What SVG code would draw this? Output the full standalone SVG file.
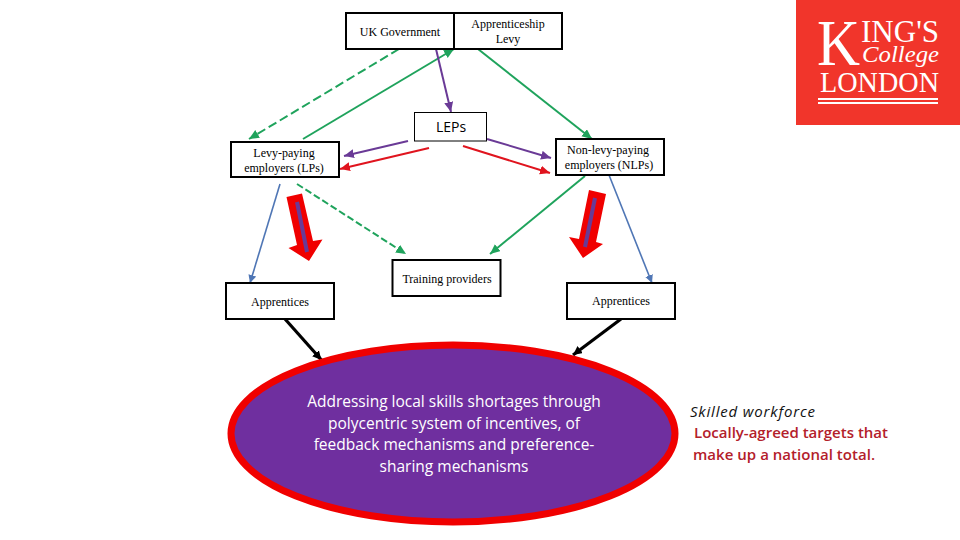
<svg xmlns="http://www.w3.org/2000/svg" width="960" height="540" viewBox="0 0 960 540">
<style>
.box{fill:#fff;stroke:#000;stroke-width:2}
.t{font-family:"Liberation Serif","Times New Roman",serif;font-size:12px;fill:#000;text-anchor:middle}
.s{font-family:"Open Sans","Noto Sans",sans-serif;font-size:15.5px;text-anchor:middle}
.n{font-family:"Open Sans","Noto Sans",sans-serif;font-size:15px}
.d{fill:#b3202a;font-weight:600}
.l{fill:none;stroke-width:2}
.g{stroke:#1fa35c}.p{stroke:#6a3a96}.r{stroke:#e0141e}.b{stroke:#4f76b5;stroke-width:1.6}
.k{stroke:#000;stroke-width:3.2;fill:none}
.w{font-family:"Liberation Serif",serif;fill:#fff}
</style>
<defs>
<marker id="ag" markerUnits="userSpaceOnUse" markerWidth="12" markerHeight="10" refX="10" refY="4.5" orient="auto"><path d="M0 0L10 4.5L0 9z" fill="#1fa35c"/></marker>
<marker id="ap" markerUnits="userSpaceOnUse" markerWidth="12" markerHeight="10" refX="10" refY="4.5" orient="auto"><path d="M0 0L10 4.5L0 9z" fill="#6a3a96"/></marker>
<marker id="ar" markerUnits="userSpaceOnUse" markerWidth="12" markerHeight="10" refX="10" refY="4.5" orient="auto"><path d="M0 0L10 4.5L0 9z" fill="#e0141e"/></marker>
<marker id="ab" markerUnits="userSpaceOnUse" markerWidth="12" markerHeight="10" refX="8" refY="4" orient="auto"><path d="M0 0L8 4L0 8z" fill="#4f76b5"/></marker>
<marker id="ak" markerUnits="userSpaceOnUse" markerWidth="12" markerHeight="10" refX="9" refY="4.5" orient="auto"><path d="M0 0L9 4.5L0 9z" fill="#000"/></marker>
</defs>
<rect width="960" height="540" fill="#fff"/>
<g id="connectors">
<path class="l g" stroke-dasharray="9 4" d="M399 49L249 139" marker-end="url(#ag)"/>
<path class="l g" d="M303 139L454 49" marker-end="url(#ag)"/>
<path class="l g" d="M478 49L592 139" marker-end="url(#ag)"/>
<path class="l p" d="M436 49L451 112" marker-end="url(#ap)"/>
<path class="l p" d="M408 141L344 156" marker-end="url(#ap)"/>
<path class="l p" d="M487 139L551 158" marker-end="url(#ap)"/>
<path class="l r" d="M429 148L340 169" marker-end="url(#ar)"/>
<path class="l r" d="M463 146L550 173" marker-end="url(#ar)"/>
<path class="l g" stroke-dasharray="7 3" d="M297 184L406 254" marker-end="url(#ag)"/>
<path class="l g" d="M585 176L490 254" marker-end="url(#ag)"/>
<path class="l b" d="M280 184L250 283" marker-end="url(#ab)"/>
<path class="l b" d="M609 175L652 283" marker-end="url(#ab)"/>
<path class="k" d="M285 319L321.500 360" marker-end="url(#ak)"/>
<path class="k" d="M621 319L573 355" marker-end="url(#ak)"/>
</g>
<g id="block-arrow-left">
<path d="M286.500 197L302 193.500L313 241L322.500 239.500L309 261L288.500 248L297 245z" fill="#f00000"/>
<path d="M297 202L307 252" stroke="#6a3a96" stroke-width="4" fill="none"/>
</g>
<g id="block-arrow-right">
<path d="M589 190L606 194L596 242L603 244L583 258L569 237L579 239z" fill="#f00000"/>
<path d="M595 198L585 247" stroke="#6a3a96" stroke-width="4" fill="none"/>
</g>
<g id="uk-government"><rect class="box" x="346" y="13" width="108" height="36"/><text class="t" x="400" y="36">UK Government</text></g>
<g id="apprenticeship-levy"><rect class="box" x="454" y="13" width="108" height="36"/><text class="t" x="508" y="28">Apprenticeship</text><text class="t" x="508" y="43">Levy</text></g>
<g id="leps"><rect x="414.500" y="112.500" width="72" height="28.500" fill="#fff" stroke="#000" stroke-width="1"/><text x="451" y="132" font-family="'Open Sans','Noto Sans',sans-serif" font-size="14" text-anchor="middle">LEPs</text></g>
<g id="lps"><rect class="box" x="231" y="142" width="108" height="35"/><text class="t" x="284" y="157">Levy-paying</text><text class="t" x="284" y="172">employers (LPs)</text></g>
<g id="nlps"><rect class="box" x="556" y="139" width="108" height="36"/><text class="t" x="608" y="154">Non-levy-paying</text><text class="t" x="609" y="169">employers (NLPs)</text></g>
<g id="training"><rect class="box" x="392.500" y="260" width="108" height="36"/><text class="t" x="447" y="283">Training providers</text></g>
<g id="apprentices-left"><rect class="box" x="226" y="283" width="108" height="36"/><text class="t" x="280" y="306">Apprentices</text></g>
<g id="apprentices-right"><rect class="box" x="567" y="283" width="108" height="36"/><text class="t" x="621" y="305">Apprentices</text></g>
<g id="outcome">
<ellipse cx="453" cy="433.500" rx="222" ry="88.500" fill="#6f2f9f" stroke="#f00000" stroke-width="7"/>
<text class="s" x="454" y="407" fill="#fff">Addressing local skills shortages through</text>
<text class="s" x="454" y="429" fill="#fff">polycentric system of incentives, of</text>
<text class="s" x="454" y="450" fill="#fff">feedback mechanisms and preference-</text>
<text class="s" x="454" y="472" fill="#fff">sharing mechanisms</text>
</g>
<g id="side-note">
<text class="n" x="690" y="417" font-style="italic" fill="#111" textLength="125">Skilled workforce</text>
<text class="n d" x="694" y="438" textLength="194">Locally-agreed targets that</text>
<text class="n d" x="693" y="460" textLength="182">make up a national total.</text>
</g>
<g id="logo">
<rect x="796" y="0" width="164" height="125" fill="#f1352b"/>
<text class="w" x="817" y="65" font-size="65" textLength="43" lengthAdjust="spacingAndGlyphs">K</text>
<text class="w" x="861" y="42" font-size="31" textLength="78" lengthAdjust="spacingAndGlyphs">ING'S</text>
<text class="w" x="862" y="62" font-size="24" font-style="italic" textLength="77" lengthAdjust="spacingAndGlyphs">College</text>
<text class="w" x="820" y="92" font-size="29" textLength="119" lengthAdjust="spacingAndGlyphs">LONDON</text>
<rect x="818" y="98" width="120" height="2" fill="#fff"/>
<rect x="818" y="102" width="120" height="2" fill="#fff"/>
</g>
</svg>
